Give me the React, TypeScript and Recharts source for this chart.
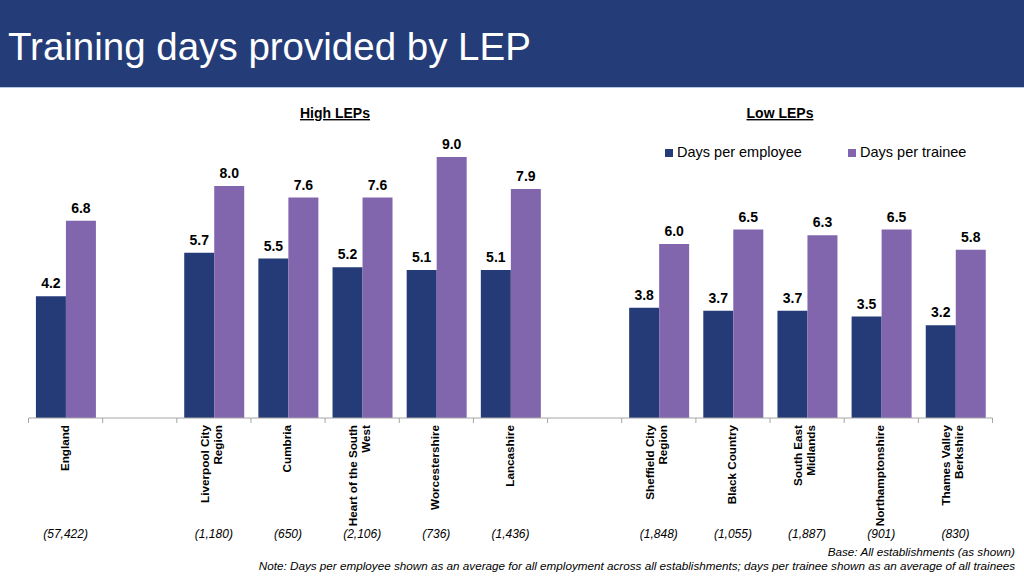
import { BarChart, Bar, XAxis, YAxis, Legend, LabelList } from 'recharts';

// categories, with two empty slots separating England / High LEPs / Low LEPs
const categories = [
  'England', 'gap1', 'Liverpool City Region', 'Cumbria', 'Heart of the South West',
  'Worcestershire', 'Lancashire', 'gap2', 'Sheffield City Region', 'Black Country',
  'South East Midlands', 'Northamptonshire', 'Thames Valley Berkshire'
];
const tickLines: string[][] = [
  ['England'], [], ['Liverpool City', 'Region'], ['Cumbria'], ['Heart of the South', 'West'],
  ['Worcestershire'], ['Lancashire'], [], ['Sheffield City', 'Region'], ['Black Country'],
  ['South East', 'Midlands'], ['Northamptonshire'], ['Thames Valley', 'Berkshire']
];
const perEmployee = [4.2, null, 5.7, 5.5, 5.2, 5.1, 5.1, null, 3.8, 3.7, 3.7, 3.5, 3.2];
const perTrainee = [6.8, null, 8.0, 7.6, 7.6, 9.0, 7.9, null, 6.0, 6.5, 6.3, 6.5, 5.8];
const baseSizes = [
  '(57,422)', '', '(1,180)', '(650)', '(2,106)', '(736)', '(1,436)', '',
  '(1,848)', '(1,055)', '(1,887)', '(901)', '(830)'
];

const W = 1024;
const H = 576;
const MARGIN = { top: 128, right: 31.5, bottom: 128, left: 28.5 };
const band = (W - MARGIN.left - MARGIN.right) / categories.length;

const NAVY = '#243B78';
const PURPLE = '#8166AE';
const FONT = '"Liberation Sans", Arial, sans-serif';

const data = categories.map((name, i) => ({
  name,
  emp: perEmployee[i],
  trainee: perTrainee[i]
}));

function CategoryTick(props: any) {
  const { x, y, payload } = props;
  const i = payload.index;
  const lines = tickLines[i] ?? [];
  const ty = y + 7;
  return (
    <g>
      <line x1={x - band / 2} x2={x - band / 2} y1={y} y2={y + 5} stroke="#a6a6a6" />
      {i === categories.length - 1 && (
        <line x1={x + band / 2} x2={x + band / 2} y1={y} y2={y + 5} stroke="#a6a6a6" />
      )}
      <text
        x={x}
        y={ty}
        transform={`rotate(-90, ${x}, ${ty})`}
        textAnchor="end"
        fontSize={11.7}
        fontWeight="bold"
        fill="#000"
        fontFamily={FONT}
      >
        {lines.map((l, k) => (
          <tspan key={k} x={x} dy={k === 0 ? (lines.length === 1 ? 3 : -5) : 13}>
            {l}
          </tspan>
        ))}
      </text>
      <text x={x} y={538} textAnchor="middle" fontSize={12} fontStyle="italic" fill="#000" fontFamily={FONT}>
        {baseSizes[i]}
      </text>
    </g>
  );
}

const fmt = (v: any) => (v == null ? '' : Number(v).toFixed(1));

function LegendBox() {
  const items = [
    { label: 'Days per employee', color: NAVY, left: 0 },
    { label: 'Days per trainee', color: PURPLE, left: 183 }
  ];
  return (
    <div style={{ position: 'relative', width: 320, height: 20, fontFamily: FONT, fontSize: 14.5 }}>
      {items.map((it) => (
        <div key={it.label} style={{ position: 'absolute', left: it.left, top: 0, lineHeight: '16px', whiteSpace: 'nowrap' }}>
          <span style={{ position: 'absolute', left: 0, top: 5, width: 8, height: 8, background: it.color }} />
          <span style={{ position: 'absolute', left: 12, top: 0, color: '#000' }}>{it.label}</span>
        </div>
      ))}
    </div>
  );
}

export default function App() {
  return (
    <div style={{ position: 'absolute', left: 0, top: 0, width: W, height: H, background: '#fff', fontFamily: FONT }}>
      <div style={{ position: 'absolute', left: 0, top: 0 }}>
        <BarChart width={W} height={H} data={data} margin={MARGIN} barCategoryGap="10%" barGap={0}>
          <XAxis
            dataKey="name"
            interval={0}
            tickLine={false}
            tickSize={0}
            tickMargin={0}
            axisLine={{ stroke: '#a6a6a6' }}
            tick={<CategoryTick />}
          />
          <YAxis hide domain={[0, 10]} />
          <Legend
            layout="horizontal"
            verticalAlign="middle"
            align="center"
            wrapperStyle={{ position: 'absolute', left: 665, top: 144, width: 320 }}
            content={() => <LegendBox />}
          />
          <Bar dataKey="emp" name="Days per employee" fill={NAVY} isAnimationActive={false}>
            <LabelList dataKey="emp" position="top" offset={8} formatter={fmt} fill="#000" fontSize={14} fontWeight="bold" fontFamily={FONT} />
          </Bar>
          <Bar dataKey="trainee" name="Days per trainee" fill={PURPLE} isAnimationActive={false}>
            <LabelList dataKey="trainee" position="top" offset={8} formatter={fmt} fill="#000" fontSize={14} fontWeight="bold" fontFamily={FONT} />
          </Bar>
        </BarChart>
      </div>
      <svg width={W} height={H} style={{ position: 'absolute', left: 0, top: 0, pointerEvents: 'none' }} fontFamily={FONT}>
        <rect x={0} y={0} width={W} height={87} fill="#243C78" />
        <rect x={0} y={87} width={W} height={1} fill="#b8c8e0" />
        <text x={8} y={60} fill="#fff" fontSize={38.5}>Training days provided by LEP</text>
        <text x={335} y={118} textAnchor="middle" fontSize={14} fontWeight="bold" textDecoration="underline">High LEPs</text>
        <text x={780} y={118} textAnchor="middle" fontSize={14} fontWeight="bold" textDecoration="underline">Low LEPs</text>
        <text x={1015} y={556} textAnchor="end" fontSize={11.7} fontStyle="italic">Base: All establishments (as shown)</text>
        <text x={1015} y={570} textAnchor="end" fontSize={11.7} fontStyle="italic">
          Note: Days per employee shown as an average for all employment across all establishments; days per trainee shown as an average of all trainees
        </text>
      </svg>
    </div>
  );
}
